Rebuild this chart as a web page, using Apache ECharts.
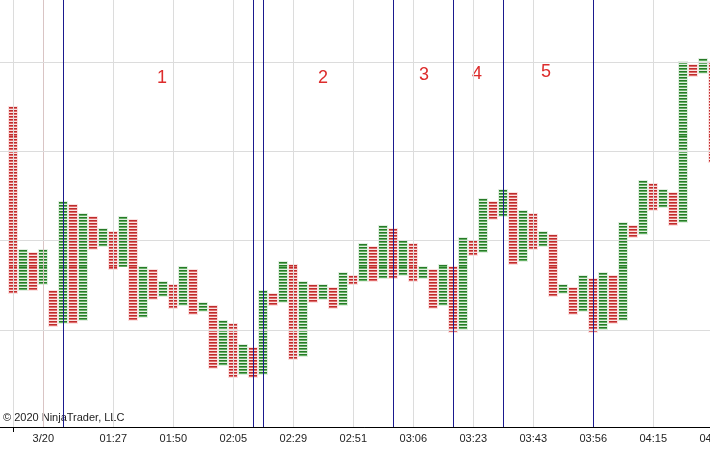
<!DOCTYPE html>
<html><head><meta charset="utf-8">
<script src="https://cdn.jsdelivr.net/npm/echarts@6/dist/echarts.min.js"></script>
<style>html,body{margin:0;padding:0;background:#fff;overflow:hidden;width:710px;height:453px}#c{width:730px;height:453px}</style>
</head><body><div id="c"></div>
<script>
// Point & figure style columns: box index of bottom edge and top edge (1 box = 1 tick)
const columnLow  = [12,13,13,15,1,2,2,3,27,28,20,21,3,4,10,11,7,8,5,6,-13,-12,-16,-15,-16,-15,8,9,-10,-9,9,10,7,8,15,16,16,17,17,18,16,17,7,8,-1,0,25,26,37,38,22,23,27,28,11,12,5,6,-1,0,2,3,31,32,40,41,35,36,85,86,56];
const columnHigh = [75,27,26,27,13,43,42,39,38,34,33,38,37,21,20,16,15,21,20,9,8,3,2,-5,-6,13,12,23,22,16,15,15,14,19,18,29,28,35,34,30,29,21,20,22,21,31,30,44,43,47,46,40,39,33,32,15,14,18,17,19,18,36,35,50,49,47,46,90,89,91,90];
const columnDir  = columnLow.map((_, i) => (i % 2 === 0 ? 'down' : 'up'));

const timeTickCols   = [3, 10, 16, 22, 28, 34, 40, 46, 52, 58, 64, 70];
const timeTickLabels = ['3/20','01:27','01:50','02:05','02:29','02:51','03:06','03:23','03:43','03:56','04:15','04:34'];
const gridCols       = [0, 3, 10, 16, 22, 28, 34, 40, 46, 52, 58, 64, 70];
const priceGridLevels = [0, 30, 60, 90];
const markerCols     = [5, 24, 25, 38, 44, 49, 58];
const zoneLabels     = ['1','2','3','4','5'];

const chart = echarts.init(document.getElementById('c'), null, {renderer: 'canvas', width: 730, height: 453});

const data = columnLow.map((lo, i) => [i, lo, columnHigh[i], columnDir[i] === 'up' ? 1 : 0]);

const COLORS = {
  up:   {dark: '#277a27', light: '#64b064', halo: '#e2efe2'},
  down: {dark: '#bd2c2c', light: '#df6a6a', halo: '#fbe2e2'}
};

function renderItem(params, api) {
  const i = api.value(0), lo = api.value(1), hi = api.value(2), up = api.value(3);
  const c = up ? COLORS.up : COLORS.down;
  const cx = api.coord([i, 0])[0];
  const x0 = Math.round(cx - 4);
  const yHi = api.coord([i, hi])[1], yLo = api.coord([i, lo])[1];
  const children = [{
    type: 'rect',
    shape: {x: x0 - 1, y: Math.round(yHi) - 1, width: 10, height: Math.round(yLo) - Math.round(yHi) + 1},
    style: {fill: c.halo}
  }];
  for (let b = lo; b < hi; b++) {
    const yTop = Math.round(api.coord([i, b + 1])[1]);
    children.push({type: 'rect', shape: {x: x0, y: yTop, width: 8, height: 1}, style: {fill: c.dark}});
    children.push({type: 'rect', shape: {x: x0, y: yTop + 1, width: 8, height: 1}, style: {fill: c.light}});
  }
  return {type: 'group', children};
}

const xMin = -1.333;
const option = {
  animation: false,
  backgroundColor: '#ffffff',
  grid: {left: 0, right: 0, top: 0, bottom: 26, containLabel: false},
  xAxis: {
    type: 'value', min: xMin, max: xMin + 73,
    axisLine: {show: true, onZero: false, lineStyle: {color: '#000', width: 1}},
    axisTick: {show: true, customValues: [0], length: 5, lineStyle: {color: '#000'}},
    splitLine: {show: false},
    axisLabel: {
      customValues: timeTickCols,
      margin: 6,
      fontFamily: 'Liberation Sans, Arial, sans-serif', fontSize: 11, color: '#222',
      formatter: v => { const k = timeTickCols.indexOf(Math.round(v)); return k >= 0 ? timeTickLabels[k] : ''; }
    }
  },
  yAxis: {type: 'value', min: -32.58, max: 110.85, show: false},
  series: [
    {
      type: 'scatter', data: [], z: 1, silent: true,
      markLine: {
        silent: true, symbol: ['none','none'], label: {show: false}, animation: false,
        lineStyle: {color: '#dcdcdc', width: 1, type: 'solid'},
        emphasis: {disabled: true},
        data: gridCols.map(v => ({xAxis: v, lineStyle: v === 3 ? {color: '#d9c4c4'} : undefined}))
          .concat(priceGridLevels.map(v => ({yAxis: v})))
      }
    },
    {
      type: 'custom', renderItem, data, z: 2, clip: true, silent: true,
      encode: {x: 0, y: [1, 2]}
    },
    {
      type: 'scatter', data: [], z: 3, silent: true,
      markLine: {
        silent: true, symbol: ['none','none'], label: {show: false}, animation: false,
        lineStyle: {color: '#1a1a8e', width: 1, type: 'solid'},
        emphasis: {disabled: true},
        data: markerCols.map(v => ({xAxis: v}))
      }
    }
  ],
  graphic: [
    {type: 'text', left: 3, top: 412, style: {text: '\u00a9 2020 NinjaTrader, LLC', font: '11px "Liberation Sans", Arial, sans-serif', fill: '#222'}},
    {type: 'text', x: 162, y: 78, style: {text: zoneLabels[0], font: '18px "Liberation Sans", Arial, sans-serif', fill: '#dd2c2c', align: 'center', verticalAlign: 'middle'}},
    {type: 'text', x: 323, y: 78, style: {text: zoneLabels[1], font: '18px "Liberation Sans", Arial, sans-serif', fill: '#dd2c2c', align: 'center', verticalAlign: 'middle'}},
    {type: 'text', x: 424, y: 75, style: {text: zoneLabels[2], font: '18px "Liberation Sans", Arial, sans-serif', fill: '#dd2c2c', align: 'center', verticalAlign: 'middle'}},
    {type: 'text', x: 477, y: 74, style: {text: zoneLabels[3], font: '18px "Liberation Sans", Arial, sans-serif', fill: '#dd2c2c', align: 'center', verticalAlign: 'middle'}},
    {type: 'text', x: 546, y: 72, style: {text: zoneLabels[4], font: '18px "Liberation Sans", Arial, sans-serif', fill: '#dd2c2c', align: 'center', verticalAlign: 'middle'}}
  ]
};
chart.setOption(option);
</script>
</body></html>
